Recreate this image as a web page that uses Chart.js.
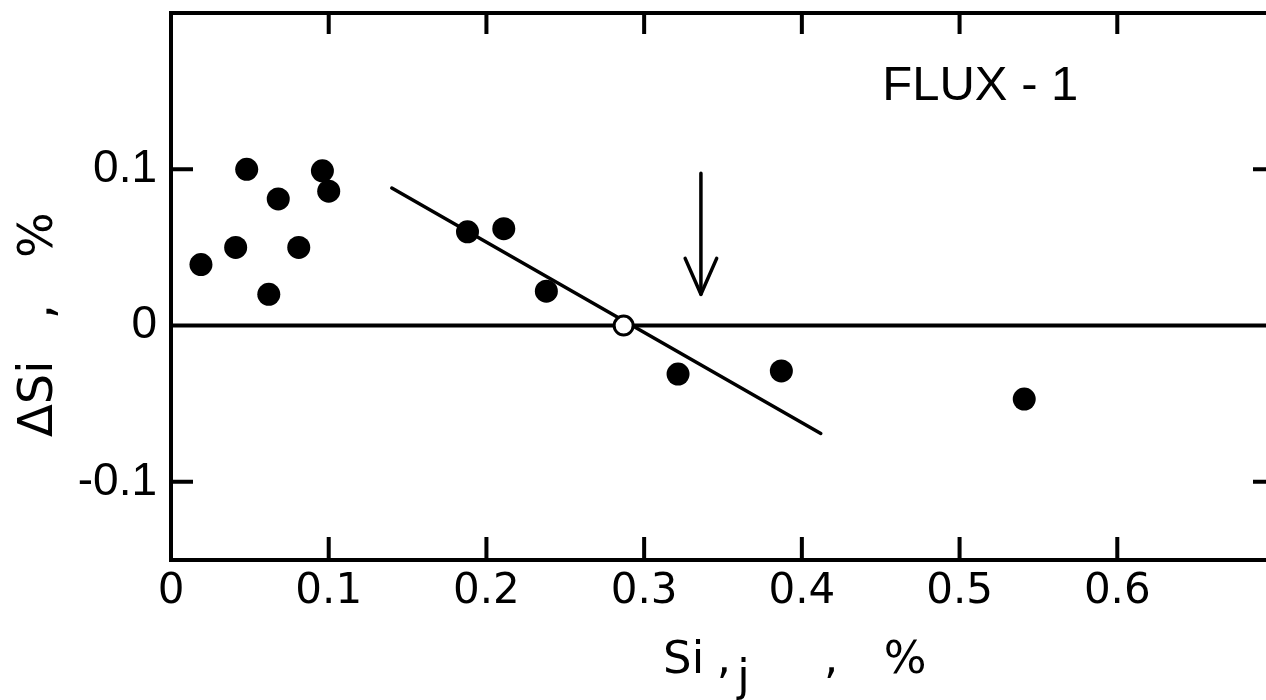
<!DOCTYPE html>
<html>
<head>
<meta charset="utf-8">
<script src="https://cdn.jsdelivr.net/npm/chart.js@4/dist/chart.umd.min.js"></script>
<style>
  html, body { margin: 0; padding: 0; background: #fff; overflow: hidden; }
  #wrap { width: 1290px; height: 700px; }
</style>
</head>
<body>
<div id="wrap"><canvas id="c" width="1290" height="700"></canvas></div>
<script>
// ---- data ----
const xTickValues = [0, 0.1, 0.2, 0.3, 0.4, 0.5, 0.6];
const yTickValues = [-0.1, 0, 0.1];
const siInitial = [0.019, 0.041, 0.048, 0.062, 0.068, 0.081, 0.096, 0.100, 0.188, 0.211, 0.238, 0.3215, 0.387, 0.541];
const deltaSi   = [0.039, 0.050, 0.100, 0.020, 0.081, 0.050, 0.099, 0.086, 0.060, 0.062, 0.022, -0.031, -0.029, -0.047];
const openX = [0.287];
const openY = [0.0];
const fitX = [0.14, 0.412];
const fitY = [0.088, -0.069];
const zeroX = [0, 0.7];
const zeroY = [0, 0];
const arrowX = [0.336, 0.336];
const arrowY = [0.0975, 0.02];
const headX = [0.326, 0.336, 0.346];
const headY = [0.043, 0.02, 0.043];
const panelLabel = 'FLUX - 1';

const zip = (xs, ys) => xs.map((x, i) => ({ x: x, y: ys[i] }));
const FONT = '"DejaVu Sans", "Liberation Sans", Arial, sans-serif';
const FONT_N = '"Liberation Sans", Arial, sans-serif';

const lineDs = (xs, ys, w, ord) => ({
  data: zip(xs, ys), showLine: true, pointRadius: 0, borderColor: '#000',
  borderWidth: w, fill: false, order: ord, borderCapStyle: 'round', borderJoinStyle: 'round'
});

const decor = {
  id: 'decor',
  afterDraw(chart) {
    const ctx = chart.ctx, a = chart.chartArea;
    const xs = chart.scales.x, ys = chart.scales.y;
    ctx.save();
    ctx.strokeStyle = '#000';
    ctx.lineWidth = 4;
    ctx.lineCap = 'butt';
    ctx.strokeRect(a.left, a.top, a.right - a.left, a.bottom - a.top);
    // inward tick marks
    ctx.beginPath();
    xTickValues.forEach(v => {
      if (v === 0) return;
      const p = xs.getPixelForValue(v);
      ctx.moveTo(p, a.bottom); ctx.lineTo(p, a.bottom - 23);
      ctx.moveTo(p, a.top); ctx.lineTo(p, a.top + 21);
    });
    yTickValues.forEach(v => {
      if (v === 0) return;
      const p = ys.getPixelForValue(v);
      ctx.moveTo(a.left, p); ctx.lineTo(a.left + 22, p);
      ctx.moveTo(a.right, p); ctx.lineTo(a.right - 22, p);
    });
    ctx.stroke();

    ctx.fillStyle = '#000';
    // panel label
    ctx.font = '49px ' + FONT_N;
    ctx.textAlign = 'left';
    ctx.textBaseline = 'alphabetic';
    ctx.fillText(panelLabel, xs.getPixelForValue(0.451), ys.getPixelForValue(0.1446));

    // x axis title
    ctx.font = '45px ' + FONT;
    const bx = 673;
    ctx.fillText('Si', xs.getPixelForValue(0.3120), bx);
    ctx.fillText(',', xs.getPixelForValue(0.346), bx);
    ctx.fillText('j', xs.getPixelForValue(0.3590), bx + 18);
    ctx.fillText(',', xs.getPixelForValue(0.414), bx);
    ctx.fillText('%', xs.getPixelForValue(0.4520), bx);

    // y axis title (rotated)
    ctx.save();
    ctx.translate(52, 0);
    ctx.rotate(-Math.PI / 2);
    ctx.font = '48px ' + FONT;
    ctx.textAlign = 'left';
    ctx.fillText('\u0394Si', -ys.getPixelForValue(-0.0713), 0);
    ctx.fillText(',', -ys.getPixelForValue(0.0040), 0);
    ctx.fillText('%', -ys.getPixelForValue(0.0433), 0);
    ctx.restore();
    ctx.restore();
  }
};

new Chart(document.getElementById('c'), {
  type: 'scatter',
  data: {
    datasets: [
      {
        data: zip(siInitial, deltaSi), pointRadius: 11.5, pointHoverRadius: 11.5,
        backgroundColor: '#000', borderColor: '#000', borderWidth: 0, order: 0
      },
      {
        data: zip(openX, openY), pointRadius: 9.5, pointHoverRadius: 9.5,
        backgroundColor: '#fff', borderColor: '#000', borderWidth: 3, order: 0
      },
      lineDs(fitX, fitY, 3.5, 2),
      lineDs(zeroX, zeroY, 4, 3),
      lineDs(arrowX, arrowY, 3.5, 2),
      lineDs(headX, headY, 3.5, 2)
    ]
  },
  options: {
    responsive: false,
    animation: false,
    events: [],
    layout: { padding: { top: 13, right: 15, left: 0, bottom: 0 } },
    plugins: { legend: { display: false }, tooltip: { enabled: false }, title: { display: false } },
    scales: {
      x: {
        type: 'linear', min: 0, max: 0.7,
        afterBuildTicks: s => { s.ticks = xTickValues.map(v => ({ value: v })); },
        afterFit: s => { s.height = 140; s.paddingLeft = 0; s.paddingRight = 0; },
        ticks: {
          color: '#000', font: { family: FONT, size: 42 }, padding: 7,
          maxRotation: 0, autoSkip: false,
          callback: v => String(v)
        },
        grid: { drawOnChartArea: false, drawTicks: false },
        border: { display: true, color: '#000', width: 4 }
      },
      y: {
        type: 'linear', min: -0.15, max: 0.2,
        afterBuildTicks: s => { s.ticks = yTickValues.map(v => ({ value: v })); },
        afterFit: s => { s.width = 171; s.paddingTop = 0; s.paddingBottom = 0; },
        ticks: {
          color: '#000', font: { family: FONT_N, size: 46 }, padding: 14,
          autoSkip: false,
          callback: v => String(v)
        },
        grid: { drawOnChartArea: false, drawTicks: false },
        border: { display: true, color: '#000', width: 4 }
      }
    }
  },
  plugins: [decor]
});
</script>
</body>
</html>
